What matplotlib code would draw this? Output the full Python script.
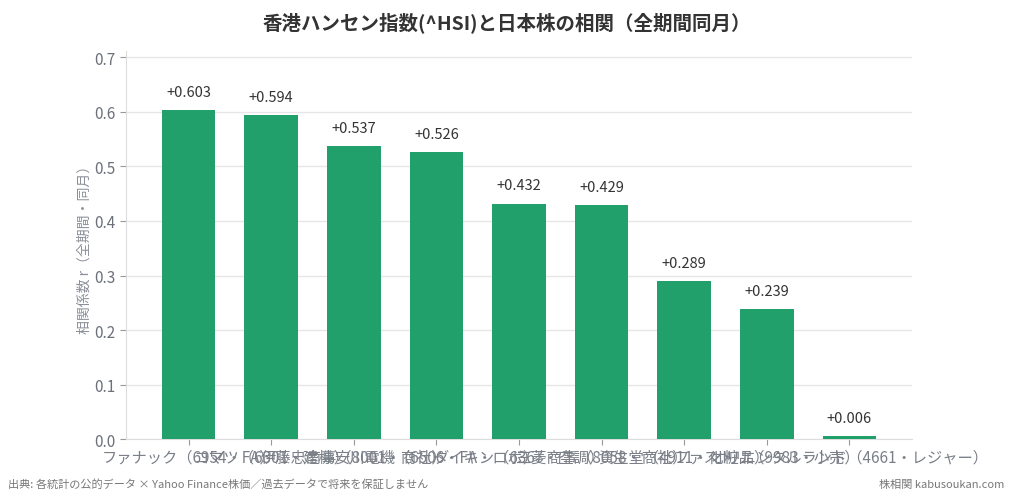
import matplotlib
matplotlib.use("Agg")
import matplotlib.pyplot as plt

plt.rcParams['font.family'] = ['Noto Sans CJK JP', 'DejaVu Sans']

categories = [
    "ファナック（6954・FA）",
    "コマツ（6301・建機）",
    "伊藤忠商事（8001・商社）",
    "安川電機（6506・FA・ロボ）",
    "ダイキン（6367・空調）",
    "三菱商事（8058・商社）",
    "資生堂（4911・化粧品）",
    "ファストリ（9983・小売）",
    "オリエンタルランド（4661・レジャー）",
]
values = [0.603, 0.594, 0.537, 0.526, 0.432, 0.429, 0.289, 0.239, 0.006]
yticks = [0.0, 0.1, 0.2, 0.3, 0.4, 0.5, 0.6, 0.7]

title = "香港ハンセン指数(^HSI)と日本株の相関（全期間同月）"
ylabel = "相関係数 r（全期間・同月）"
footer_left = "出典: 各統計の公的データ × Yahoo Finance株価／過去データで将来を保証しません"
footer_right = "株相関 kabusoukan.com"

bar_color = "#22a06b"
grid_color = "#e6e6e6"
text_gray = "#6b707a"

fig = plt.figure(figsize=(10.13, 5.02), dpi=100)
ax = fig.add_axes([0.1244, 0.1235, 0.7759, 0.7725])

x = list(range(len(categories)))
bars = ax.bar(x, values, width=0.65, color=bar_color, zorder=3)

for xi, v in zip(x, values):
    ax.annotate(f"+{v:.3f}", (xi, v), xytext=(0, 8), textcoords="offset points",
                ha="center", va="bottom", fontsize=10.5, color="#333333")

ax.set_ylim(0, max(values) * 1.18)
ax.set_yticks(yticks)
ax.set_yticklabels([f"{t:.1f}" for t in yticks])
ax.set_xticks(x)
ax.set_xticklabels(categories)
ax.tick_params(axis='x', labelsize=11, colors="#999999", labelcolor="#7a7f88", length=4, pad=3)
ax.tick_params(axis='y', labelsize=11, colors="#999999", labelcolor=text_gray, length=4)

ax.yaxis.grid(True, color=grid_color, linewidth=1, zorder=0)
ax.set_axisbelow(True)
for s in ["top", "right"]:
    ax.spines[s].set_visible(False)
for s in ["left", "bottom"]:
    ax.spines[s].set_color("#dddddd")

ax.set_ylabel(ylabel, fontsize=10, color="#8a8f99", labelpad=2)

fig.text(0.5, 0.955, title, ha="center", va="center", fontsize=14, fontweight="bold", color="#333333")
fig.text(0.008, 0.035, footer_left, ha="left", va="center", fontsize=8, color="#777777")
fig.text(0.991, 0.035, footer_right, ha="right", va="center", fontsize=8, color="#777777")

fig.savefig("out.png", dpi=100)
